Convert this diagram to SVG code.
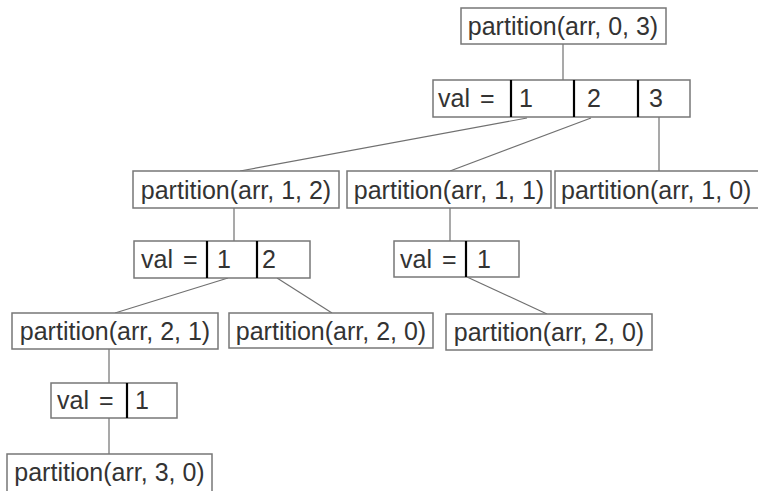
<svg xmlns="http://www.w3.org/2000/svg" width="758" height="491" viewBox="0 0 758 491">
  <style>
    .box { fill: #ffffff; stroke: #777777; stroke-width: 1.5; }
    .div { stroke: #000000; stroke-width: 2.2; }
    .edge { stroke: #707070; stroke-width: 1.2; fill: none; }
    text { font-family: "Liberation Sans", Arial, sans-serif; font-size: 25px; fill: #333333; }
    .mid { text-anchor: middle; }
    .lbl { word-spacing: 3px; }
  </style>
  <rect width="758" height="491" fill="#ffffff"/>

  <!-- connectors -->
  <g id="edges">
    <line class="edge" x1="563" y1="44" x2="563" y2="80"/>
    <line class="edge" x1="527" y1="118" x2="240" y2="171"/>
    <line class="edge" x1="591" y1="118" x2="450" y2="171"/>
    <line class="edge" x1="659" y1="117" x2="659" y2="171"/>
    <line class="edge" x1="234" y1="208" x2="234" y2="241"/>
    <line class="edge" x1="450" y1="208" x2="450" y2="241"/>
    <line class="edge" x1="228" y1="278" x2="115" y2="313"/>
    <line class="edge" x1="277" y1="278" x2="332" y2="313"/>
    <line class="edge" x1="467" y1="277" x2="547" y2="314"/>
    <line class="edge" x1="109" y1="349" x2="109" y2="383"/>
    <line class="edge" x1="109" y1="418" x2="109" y2="454"/>
  </g>

  <!-- call boxes -->
  <g id="p-0-3">
    <rect class="box" x="461" y="8" width="205" height="36"/>
    <text class="mid" x="563" y="35">partition(arr, 0, 3)</text>
  </g>
  <g id="val-0-3">
    <rect class="box" x="433" y="80" width="257" height="37"/>
    <line class="div" x1="511" y1="80" x2="511" y2="117"/>
    <line class="div" x1="574" y1="80" x2="574" y2="117"/>
    <line class="div" x1="638" y1="80" x2="638" y2="117"/>
    <text class="lbl" x="438" y="107">val =</text>
    <text x="519" y="107">1</text>
    <text x="587" y="107">2</text>
    <text x="649" y="107">3</text>
  </g>

  <g id="p-1-2">
    <rect class="box" x="133" y="171" width="206" height="37"/>
    <text class="mid" x="236" y="198.5">partition(arr, 1, 2)</text>
  </g>
  <g id="p-1-1">
    <rect class="box" x="347" y="171" width="204" height="37"/>
    <text class="mid" x="449" y="198.5">partition(arr, 1, 1)</text>
  </g>
  <g id="p-1-0">
    <rect class="box" x="555" y="171" width="212" height="37"/>
    <text x="561" y="198.5">partition(arr, 1, 0)</text>
  </g>

  <g id="val-1-2">
    <rect class="box" x="134" y="241" width="176" height="37"/>
    <line class="div" x1="207" y1="241" x2="207" y2="278"/>
    <line class="div" x1="257" y1="241" x2="257" y2="278"/>
    <text class="lbl" x="141" y="268">val =</text>
    <text x="217" y="268">1</text>
    <text x="262" y="268">2</text>
  </g>
  <g id="val-1-1">
    <rect class="box" x="394" y="241" width="125" height="36"/>
    <line class="div" x1="466" y1="241" x2="466" y2="277"/>
    <text class="lbl" x="400" y="268">val =</text>
    <text x="477" y="268">1</text>
  </g>

  <g id="p-2-1">
    <rect class="box" x="12" y="313" width="206" height="36"/>
    <text class="mid" x="115" y="340">partition(arr, 2, 1)</text>
  </g>
  <g id="p-2-0-a">
    <rect class="box" x="229" y="313" width="204" height="35"/>
    <text class="mid" x="331" y="340">partition(arr, 2, 0)</text>
  </g>
  <g id="p-2-0-b">
    <rect class="box" x="446" y="314" width="206" height="36"/>
    <text class="mid" x="549" y="341">partition(arr, 2, 0)</text>
  </g>

  <g id="val-2-1">
    <rect class="box" x="51" y="383" width="126" height="35"/>
    <line class="div" x1="127" y1="383" x2="127" y2="418"/>
    <text class="lbl" x="57" y="409">val =</text>
    <text x="135" y="409">1</text>
  </g>

  <g id="p-3-0">
    <rect class="box" x="7" y="454" width="205" height="42"/>
    <text class="mid" x="109.5" y="481">partition(arr, 3, 0)</text>
  </g>
</svg>
